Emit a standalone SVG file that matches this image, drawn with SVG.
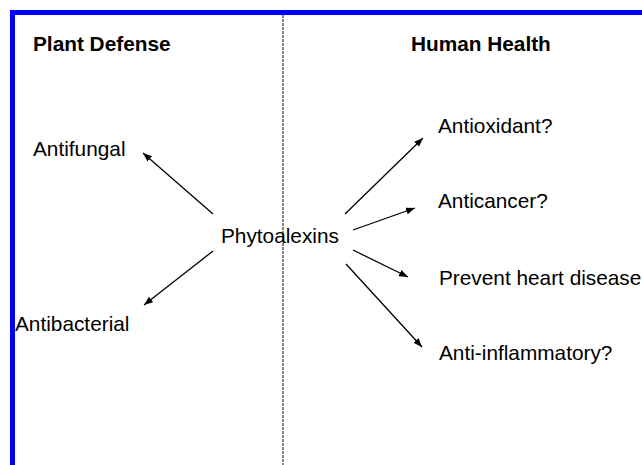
<svg xmlns="http://www.w3.org/2000/svg" width="642" height="465" viewBox="0 0 642 465">
<style>
.t{font-family:"Liberation Sans",Arial,sans-serif;font-size:20.8px;fill:#000}
.h{font-family:"Liberation Sans",Arial,sans-serif;font-size:20.8px;font-weight:bold;fill:#000}
.c{stroke:#000;stroke-width:1.3;fill:none;marker-end:url(#ah)}
</style>
<defs>
<marker id="ah" markerUnits="userSpaceOnUse" markerWidth="10" markerHeight="8" refX="9" refY="3.5" orient="auto">
<path d="M0,0 L9,3.5 L0,7 z" fill="#000"/>
</marker>
</defs>
<rect width="642" height="465" fill="#fff"/>
<g id="frame">
<rect x="10" y="10" width="632" height="5" fill="#0000ff"/>
<rect x="10" y="10" width="5" height="455" fill="#0000ff"/>
<line x1="283" y1="15" x2="283" y2="465" stroke="#444" stroke-width="1.3" stroke-dasharray="3,1"/>
</g>
<g id="plant-defense"><text class="h" x="33" y="51">Plant Defense</text></g>
<g id="human-health"><text class="h" x="411" y="51">Human Health</text></g>
<g id="phytoalexins"><text class="t" x="221" y="243">Phytoalexins</text></g>
<g id="antifungal"><text class="t" x="33" y="156">Antifungal</text></g>
<g id="antibacterial"><text class="t" x="15" y="331">Antibacterial</text></g>
<g id="antioxidant"><text class="t" x="438" y="133">Antioxidant?</text></g>
<g id="anticancer"><text class="t" x="438" y="208">Anticancer?</text></g>
<g id="heart"><text class="t" x="439" y="285">Prevent heart disease</text></g>
<g id="antiinflammatory"><text class="t" x="439" y="360">Anti-inflammatory?</text></g>
<g id="connectors">
<line class="c" x1="213" y1="214" x2="143" y2="153"/>
<line class="c" x1="213" y1="251" x2="144" y2="305"/>
<line class="c" x1="345" y1="214" x2="423" y2="138"/>
<line class="c" x1="353" y1="230" x2="415" y2="208"/>
<line class="c" x1="353" y1="250" x2="408" y2="277"/>
<line class="c" x1="346" y1="264" x2="422" y2="347"/>
</g>
</svg>
